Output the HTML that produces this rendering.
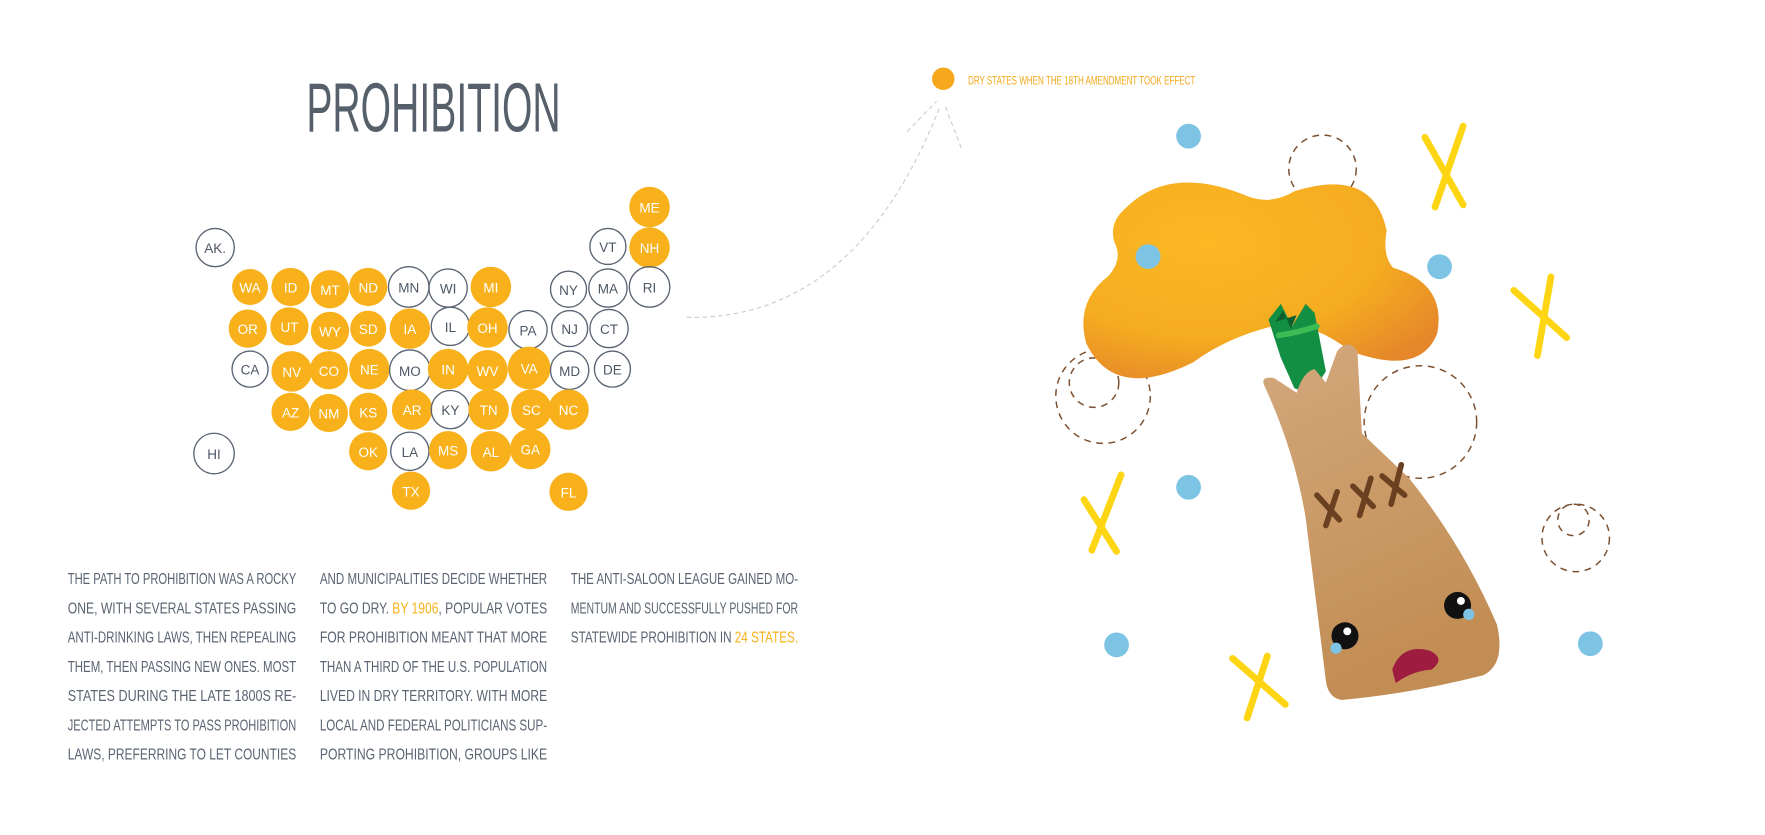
<!DOCTYPE html>
<html><head><meta charset="utf-8"><style>
html,body{margin:0;padding:0;background:#fff;width:1765px;height:835px;overflow:hidden}
svg{display:block}
.t{font-family:"Liberation Sans Narrow","Liberation Sans",sans-serif;font-size:14px;fill:#5a6472}
.s{font-family:"Liberation Sans Narrow","Liberation Sans",sans-serif;font-size:12px;text-anchor:middle}
.w{fill:#fff}.g{fill:#4d5866}
</style></head><body>
<svg width="1765" height="835" viewBox="0 0 1568 742" xmlns="http://www.w3.org/2000/svg">
<defs>
<radialGradient id="bg1" cx="0.35" cy="0.3" r="0.8"><stop offset="0" stop-color="#fbb823"/><stop offset="0.6" stop-color="#f5ad20"/><stop offset="1" stop-color="#e5862a"/></radialGradient>
<linearGradient id="br" x1="0" y1="0" x2="0.3" y2="1"><stop offset="0" stop-color="#d3a87c"/><stop offset="1" stop-color="#c28d54"/></linearGradient>
</defs>
<text x="272" y="117" textLength="226" lengthAdjust="spacingAndGlyphs" style="font-family:'Liberation Sans Narrow','Liberation Sans',sans-serif;font-size:62px;fill:#56606b">PROHIBITION</text>
<g>
<circle cx="577" cy="184" r="18" fill="#f9b11b"/><text class="s w" x="577" y="189">ME</text>
<circle cx="540" cy="219" r="16" fill="none" stroke="#5a6472" stroke-width="1.2"/><text class="s g" x="540" y="224">VT</text>
<circle cx="577" cy="220" r="18" fill="#f9b11b"/><text class="s w" x="577" y="225">NH</text>
<circle cx="191" cy="220" r="17" fill="none" stroke="#5a6472" stroke-width="1.2"/><text class="s g" x="191" y="225">AK.</text>
<circle cx="222" cy="255" r="16" fill="#f9b11b"/><text class="s w" x="222" y="260">WA</text>
<circle cx="258" cy="255" r="17" fill="#f9b11b"/><text class="s w" x="258" y="260">ID</text>
<circle cx="293" cy="257" r="17" fill="#f9b11b"/><text class="s w" x="293" y="262">MT</text>
<circle cx="327" cy="255" r="17" fill="#f9b11b"/><text class="s w" x="327" y="260">ND</text>
<circle cx="363" cy="255" r="18" fill="none" stroke="#5a6472" stroke-width="1.2"/><text class="s g" x="363" y="260">MN</text>
<circle cx="398" cy="256" r="17" fill="none" stroke="#5a6472" stroke-width="1.2"/><text class="s g" x="398" y="261">WI</text>
<circle cx="436" cy="255" r="18" fill="#f9b11b"/><text class="s w" x="436" y="260">MI</text>
<circle cx="505" cy="257" r="16" fill="none" stroke="#5a6472" stroke-width="1.2"/><text class="s g" x="505" y="262">NY</text>
<circle cx="540" cy="256" r="17" fill="none" stroke="#5a6472" stroke-width="1.2"/><text class="s g" x="540" y="261">MA</text>
<circle cx="577" cy="255" r="18" fill="none" stroke="#5a6472" stroke-width="1.2"/><text class="s g" x="577" y="260">RI</text>
<circle cx="220" cy="292" r="17" fill="#f9b11b"/><text class="s w" x="220" y="297">OR</text>
<circle cx="257" cy="290" r="17" fill="#f9b11b"/><text class="s w" x="257" y="295">UT</text>
<circle cx="293" cy="294" r="17" fill="#f9b11b"/><text class="s w" x="293" y="299">WY</text>
<circle cx="327" cy="292" r="16" fill="#f9b11b"/><text class="s w" x="327" y="297">SD</text>
<circle cx="364" cy="292" r="18" fill="#f9b11b"/><text class="s w" x="364" y="297">IA</text>
<circle cx="400" cy="290" r="17" fill="none" stroke="#5a6472" stroke-width="1.2"/><text class="s g" x="400" y="295">IL</text>
<circle cx="433" cy="291" r="18" fill="#f9b11b"/><text class="s w" x="433" y="296">OH</text>
<circle cx="469" cy="293" r="17" fill="none" stroke="#5a6472" stroke-width="1.2"/><text class="s g" x="469" y="298">PA</text>
<circle cx="506" cy="292" r="16" fill="none" stroke="#5a6472" stroke-width="1.2"/><text class="s g" x="506" y="297">NJ</text>
<circle cx="541" cy="292" r="17" fill="none" stroke="#5a6472" stroke-width="1.2"/><text class="s g" x="541" y="297">CT</text>
<circle cx="222" cy="328" r="16" fill="none" stroke="#5a6472" stroke-width="1.2"/><text class="s g" x="222" y="333">CA</text>
<circle cx="259" cy="330" r="18" fill="#f9b11b"/><text class="s w" x="259" y="335">NV</text>
<circle cx="292" cy="329" r="17" fill="#f9b11b"/><text class="s w" x="292" y="334">CO</text>
<circle cx="328" cy="328" r="18" fill="#f9b11b"/><text class="s w" x="328" y="333">NE</text>
<circle cx="364" cy="329" r="18" fill="none" stroke="#5a6472" stroke-width="1.2"/><text class="s g" x="364" y="334">MO</text>
<circle cx="398" cy="328" r="18" fill="#f9b11b"/><text class="s w" x="398" y="333">IN</text>
<circle cx="433" cy="329" r="18" fill="#f9b11b"/><text class="s w" x="433" y="334">WV</text>
<circle cx="470" cy="327" r="19" fill="#f9b11b"/><text class="s w" x="470" y="332">VA</text>
<circle cx="506" cy="329" r="17" fill="none" stroke="#5a6472" stroke-width="1.2"/><text class="s g" x="506" y="334">MD</text>
<circle cx="544" cy="328" r="16" fill="none" stroke="#5a6472" stroke-width="1.2"/><text class="s g" x="544" y="333">DE</text>
<circle cx="258" cy="366" r="17" fill="#f9b11b"/><text class="s w" x="258" y="371">AZ</text>
<circle cx="292" cy="367" r="17" fill="#f9b11b"/><text class="s w" x="292" y="372">NM</text>
<circle cx="327" cy="366" r="17" fill="#f9b11b"/><text class="s w" x="327" y="371">KS</text>
<circle cx="366" cy="364" r="18" fill="#f9b11b"/><text class="s w" x="366" y="369">AR</text>
<circle cx="400" cy="364" r="17" fill="none" stroke="#5a6472" stroke-width="1.2"/><text class="s g" x="400" y="369">KY</text>
<circle cx="434" cy="364" r="18" fill="#f9b11b"/><text class="s w" x="434" y="369">TN</text>
<circle cx="472" cy="364" r="18" fill="#f9b11b"/><text class="s w" x="472" y="369">SC</text>
<circle cx="505" cy="364" r="18" fill="#f9b11b"/><text class="s w" x="505" y="369">NC</text>
<circle cx="190" cy="403" r="18" fill="none" stroke="#5a6472" stroke-width="1.2"/><text class="s g" x="190" y="408">HI</text>
<circle cx="327" cy="401" r="17" fill="#f9b11b"/><text class="s w" x="327" y="406">OK</text>
<circle cx="364" cy="401" r="17" fill="none" stroke="#5a6472" stroke-width="1.2"/><text class="s g" x="364" y="406">LA</text>
<circle cx="398" cy="400" r="17" fill="#f9b11b"/><text class="s w" x="398" y="405">MS</text>
<circle cx="436" cy="401" r="18" fill="#f9b11b"/><text class="s w" x="436" y="406">AL</text>
<circle cx="471" cy="399" r="18" fill="#f9b11b"/><text class="s w" x="471" y="404">GA</text>
<circle cx="365" cy="436" r="17" fill="#f9b11b"/><text class="s w" x="365" y="441">TX</text>
<circle cx="505" cy="437" r="17" fill="#f9b11b"/><text class="s w" x="505" y="442">FL</text>
</g>
<g class="t">
<text x="60" y="519" textLength="203" lengthAdjust="spacingAndGlyphs">THE PATH TO PROHIBITION WAS A ROCKY</text>
<text x="60" y="545" textLength="203" lengthAdjust="spacingAndGlyphs">ONE, WITH SEVERAL STATES PASSING</text>
<text x="60" y="571" textLength="203" lengthAdjust="spacingAndGlyphs">ANTI-DRINKING LAWS, THEN REPEALING</text>
<text x="60" y="597" textLength="203" lengthAdjust="spacingAndGlyphs">THEM, THEN PASSING NEW ONES. MOST</text>
<text x="60" y="623" textLength="203" lengthAdjust="spacingAndGlyphs">STATES DURING THE LATE 1800S RE-</text>
<text x="60" y="649" textLength="203" lengthAdjust="spacingAndGlyphs">JECTED ATTEMPTS TO PASS PROHIBITION</text>
<text x="60" y="675" textLength="203" lengthAdjust="spacingAndGlyphs">LAWS, PREFERRING TO LET COUNTIES</text>
<text x="284" y="519" textLength="202" lengthAdjust="spacingAndGlyphs">AND MUNICIPALITIES DECIDE WHETHER</text>
<text x="284" y="545" textLength="202" lengthAdjust="spacingAndGlyphs">TO GO DRY. <tspan fill="#f9b11b">BY 1906</tspan>, POPULAR VOTES</text>
<text x="284" y="571" textLength="202" lengthAdjust="spacingAndGlyphs">FOR PROHIBITION MEANT THAT MORE</text>
<text x="284" y="597" textLength="202" lengthAdjust="spacingAndGlyphs">THAN A THIRD OF THE U.S. POPULATION</text>
<text x="284" y="623" textLength="202" lengthAdjust="spacingAndGlyphs">LIVED IN DRY TERRITORY. WITH MORE</text>
<text x="284" y="649" textLength="202" lengthAdjust="spacingAndGlyphs">LOCAL AND FEDERAL POLITICIANS SUP-</text>
<text x="284" y="675" textLength="202" lengthAdjust="spacingAndGlyphs">PORTING PROHIBITION, GROUPS LIKE</text>
<text x="507" y="519" textLength="202" lengthAdjust="spacingAndGlyphs">THE ANTI-SALOON LEAGUE GAINED MO-</text>
<text x="507" y="545" textLength="202" lengthAdjust="spacingAndGlyphs">MENTUM AND SUCCESSFULLY PUSHED FOR</text>
<text x="507" y="571" textLength="202" lengthAdjust="spacingAndGlyphs">STATEWIDE PROHIBITION IN <tspan fill="#f9b11b">24 STATES.</tspan></text>
</g>
<circle cx="838" cy="70" r="10" fill="#f5a81c"/>
<text x="860" y="75" textLength="202" lengthAdjust="spacingAndGlyphs" style="font-family:'Liberation Sans Narrow','Liberation Sans',sans-serif;font-size:11px;fill:#f5a81c">DRY STATES WHEN THE 18TH AMENDMENT TOOK EFFECT</text>
<path d="M610,282 Q760,285 835,95" fill="none" stroke="#ccc" stroke-width="1" stroke-dasharray="4,3"/>
<path d="M806,117 L832,90 M840,95 L855,134" fill="none" stroke="#ccc" stroke-width="1" stroke-dasharray="4,3"/>
<g fill="none" stroke="#7a4e2e" stroke-width="1.3" stroke-dasharray="6,5">
<circle cx="1175" cy="150" r="30"/>
<circle cx="980" cy="352" r="42"/>
<circle cx="972" cy="340" r="22"/>
<circle cx="1262" cy="375" r="50"/>
<circle cx="1400" cy="478" r="30"/>
<circle cx="1398" cy="462" r="14"/>
</g>
<path d="M1000,185 Q1040,145 1110,175 Q1130,182 1150,170 Q1220,148 1232,205 Q1228,228 1238,238 Q1285,252 1277,296 Q1262,335 1200,312 Q1160,282 1130,290 Q1090,300 1060,322 Q990,357 965,305 Q955,268 985,245 Q998,230 990,215 Q985,198 1000,185 Z" fill="url(#bg1)"/>
<path d="M1127,284 L1138,270 L1148,290 L1160,270 L1168,278 L1178,330 L1165,350 L1150,345 L1138,318 Z" fill="#138f44"/>
<path d="M1133,286 L1140,276 L1147,292 L1152,280 Z" fill="#0d5e2e"/>
<path d="M1136,298 Q1152,296 1170,290" stroke="#3dbb55" stroke-width="5" fill="none" stroke-linecap="round"/>
<path d="M1123,342 Q1120,334 1132,336 L1152,349 Q1158,330 1168,328 L1178,340 L1188,312 Q1198,300 1206,312 L1210,385 L1252,425 Q1300,485 1330,555 Q1338,590 1318,600 Q1250,617 1192,622 Q1180,620 1178,605 L1160,460 Q1150,400 1123,342 Z" fill="url(#br)"/>
<g stroke="#6b4021" stroke-width="5" stroke-linecap="round">
<path d="M1170,440 L1190,462 M1178,467 L1188,437"/><path d="M1202,432 L1220,450 M1208,458 L1218,425"/><path d="M1228,423 L1248,440 M1236,448 L1245,413"/>
</g>
<circle cx="1195" cy="565" r="12" fill="#111"/><circle cx="1197" cy="561" r="3.5" fill="#fff"/><circle cx="1187" cy="576" r="5" fill="#7cc3e4"/>
<circle cx="1295" cy="538" r="12" fill="#111"/><circle cx="1298" cy="534" r="3.5" fill="#fff"/><circle cx="1305" cy="546" r="5" fill="#7cc3e4"/>
<path d="M1237,595 Q1245,572 1270,578 Q1285,585 1272,595 Q1255,596 1240,607 Z" fill="#9e1c3f"/>
<g fill="#7cc3e4">
<circle cx="1056" cy="121" r="11"/><circle cx="1020" cy="228" r="11"/><circle cx="1279" cy="237" r="11"/>
<circle cx="1056" cy="433" r="11"/><circle cx="992" cy="573" r="11"/><circle cx="1413" cy="572" r="11"/>
</g>
<g stroke="#fdd512" stroke-width="6" stroke-linecap="round" fill="none">
<path d="M1266,122 L1300,182 M1300,112 L1275,184"/>
<path d="M1345,258 L1392,300 M1378,246 L1366,316"/>
<path d="M963,444 L992,490 M996,422 L970,489"/>
<path d="M1095,585 L1142,626 M1126,583 L1108,638"/>
</g>
</svg>
</body></html>
